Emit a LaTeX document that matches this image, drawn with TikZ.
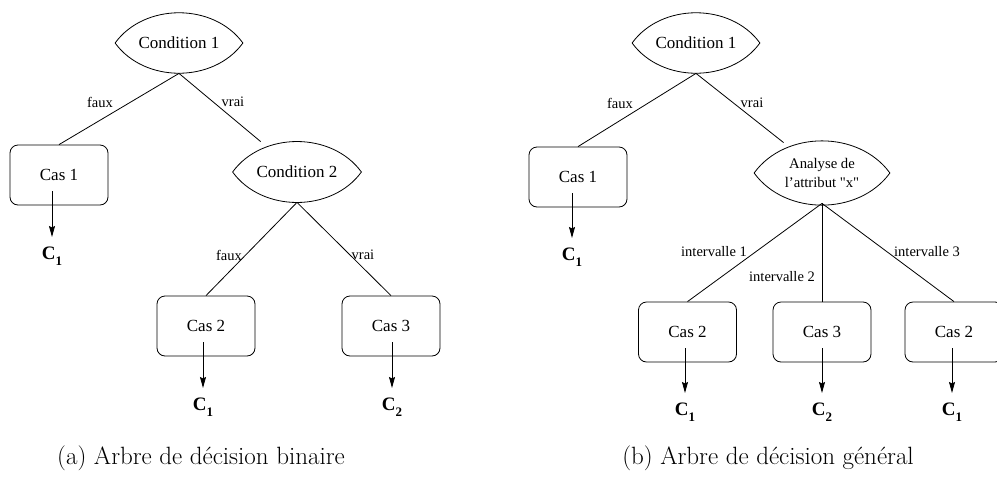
\documentclass[tikz,border=0pt]{standalone}
\usepackage{fontspec}
\newfontfamily\tms{Liberation Serif}
\usetikzlibrary{arrows.meta}
\begin{document}
\begin{tikzpicture}[x=1pt,y=1pt, line width=0.8pt,
 lens/.style={minimum width=#1, minimum height=60pt, inner sep=0pt, align=center, font=\tms\fontsize{17}{20}\selectfont},
 lenssmall/.style={lens=#1, font=\tms\fontsize{14.7}{18.7}\selectfont},
 casbox/.style={draw, rounded corners=8pt, minimum width=98pt, minimum height=60pt, inner sep=0pt, font=\tms\fontsize{17}{20}\selectfont},
 edgelbl/.style={font=\tms\fontsize{14.5}{17}\selectfont, inner sep=0pt},
 cls/.style={font=\tms\bfseries\fontsize{19}{22}\selectfont, inner sep=0pt, anchor=north},
 arr/.style={-{Stealth[length=11pt,width=6pt,inset=1.5pt]}, shorten >=10pt},
 capt/.style={font=\fontsize{25}{29}\selectfont, inner sep=0pt},
 lensline/.style={bend left=54}]
\useasboundingbox (0,0) rectangle (997,-480);
\newcommand{\csub}[1]{C\raisebox{-0.3em}{\fontsize{13}{13}\selectfont #1}}
% ---------- left tree ----------
\node[lens=127pt] (l1) at (179,-43) {Condition 1};
\node[casbox] (lc1) at (59,-175) {Cas 1};
\node[lens=128pt] (l2) at (297,-172) {Condition 2};
\node[casbox] (lc2) at (206,-326) {Cas 2};
\node[casbox] (lc3) at (391,-326) {Cas 3};
\foreach \n in {l1,l2}{
  \draw (\n.west) to[lensline] (\n.east) to[lensline] (\n.west);
}
\draw (l1.south) -- (lc1.north);
\draw (l1.south) -- (l2);
\draw (l2.south) -- (lc2.north);
\draw (l2.south) -- (lc3.north);
\node[edgelbl] (lf1) at (100,-102) {faux};
\node[edgelbl] (lv1) at (233,-102) {vrai};
\node[edgelbl] (lf2) at (229,-255) {faux};
\node[edgelbl] (lv2) at (363,-255) {vrai};
\node[cls] (lk1) at (52,-247) {\csub{1}};
\node[cls] (lk2) at (203,-398) {\csub{1}};
\node[cls] (lk3) at (392,-398) {\csub{2}};
\path (lk1.north |- lc1.center) ++(0,-16) coordinate (ls1);
\path (lk2.north |- lc2.center) ++(0,-16) coordinate (ls2);
\path (lk3.north |- lc3.center) ++(0,-16) coordinate (ls3);
\draw[arr] (ls1) -- (lk1.north);
\draw[arr] (ls2) -- (lk2.north);
\draw[arr] (ls3) -- (lk3.north);
% ---------- right tree ----------
\node[lens=127pt] (r1) at (696,-43) {Condition 1};
\node[casbox] (rc1) at (578,-177) {Cas 1};
\node[lenssmall=135pt] (r2) at (822,-173) {Analyse de\\l’attribut "x"};
\node[casbox] (rc2) at (687.5,-332) {Cas 2};
\node[casbox] (rc3) at (822,-332) {Cas 3};
\node[casbox] (rc4) at (954,-332) {Cas 2};
\foreach \n in {r1,r2}{
  \draw (\n.west) to[lensline] (\n.east) to[lensline] (\n.west);
}
\draw (r1.south) -- (rc1.north);
\draw (r1.south) -- (r2);
\draw (r2.south) -- (rc2.north);
\draw (r2.south) -- (rc3.north);
\draw (r2.south) -- (rc4.north);
\node[edgelbl] (rf1) at (620,-103) {faux};
\node[edgelbl] (rv1) at (752,-103) {vrai};
\node[edgelbl] (ri1) at (714,-252) {intervalle 1};
\node[edgelbl] (ri2) at (782,-277) {intervalle 2};
\node[edgelbl] (ri3) at (927,-252) {intervalle 3};
\node[cls] (rk1) at (572,-248) {\csub{1}};
\node[cls] (rk2) at (685,-403) {\csub{1}};
\node[cls] (rk3) at (822,-403) {\csub{2}};
\node[cls] (rk4) at (952,-403) {\csub{1}};
\path (rk1.north |- rc1.center) ++(0,-16) coordinate (rs1);
\path (rk2.north |- rc2.center) ++(0,-16) coordinate (rs2);
\path (rk3.north |- rc3.center) ++(0,-16) coordinate (rs3);
\path (rk4.north |- rc4.center) ++(0,-16) coordinate (rs4);
\draw[arr] (rs1) -- (rk1.north);
\draw[arr] (rs2) -- (rk2.north);
\draw[arr] (rs3) -- (rk3.north);
\draw[arr] (rs4) -- (rk4.north);
% ---------- captions ----------
\node[capt] (capa) at (201,-458) {(a) Arbre de décision binaire};
\node[capt] (capb) at (768,-458) {(b) Arbre de décision général};
\end{tikzpicture}
\end{document}
